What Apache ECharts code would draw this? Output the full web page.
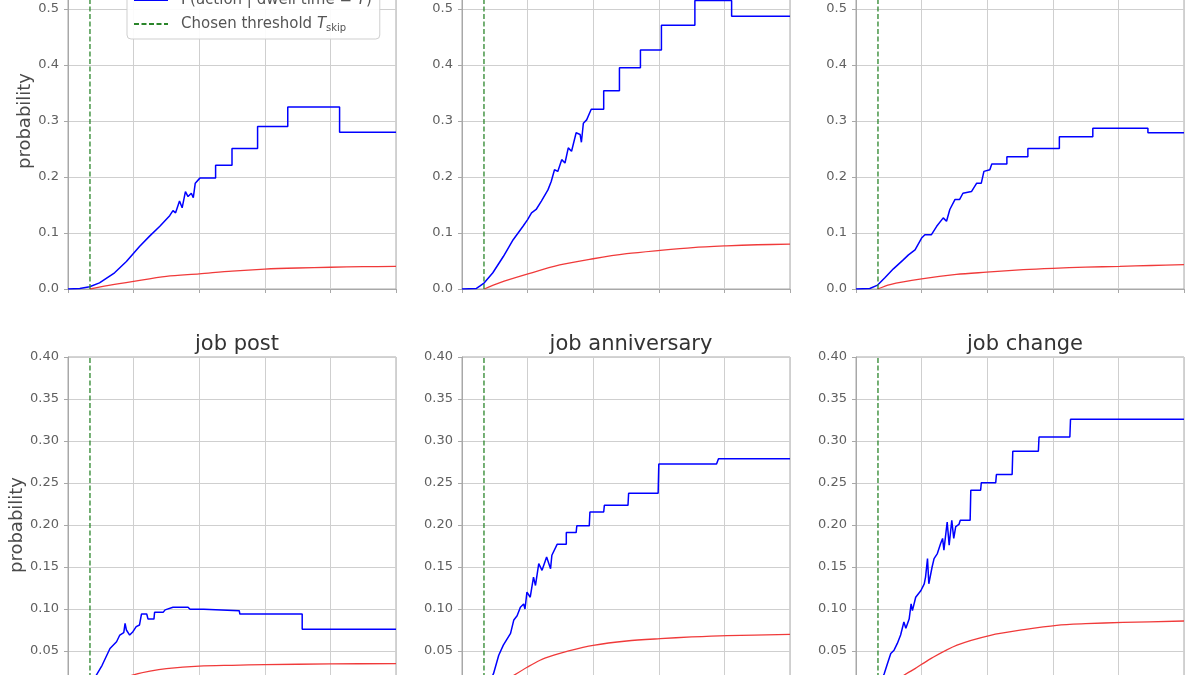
<!DOCTYPE html>
<html><head><meta charset="utf-8">
<script src="https://cdn.jsdelivr.net/npm/echarts@6/dist/echarts.min.js"></script>
<style>html,body{margin:0;padding:0;background:#fff}#c{width:1200px;height:675px}</style>
</head><body><div id="c"></div>
<script>
// ---------- data ----------
const panelTitles = ['', '', '', 'job post', 'job anniversary', 'job change'];
const thresholdT = 0.335;
const xMin = 0, xMax = 5, xStep = 1;
const topRowMax = 0.6, topRowStep = 0.1;
const bottomRowMax = 0.4, bottomRowStep = 0.05;

const blue1 = [[0,0],[0.18,0.001],[0.33,0.004],[0.48,0.011],[0.71,0.029],[0.89,0.049],[1.09,0.076],[1.24,0.094],[1.40,0.112],[1.55,0.131],[1.60,0.140],[1.64,0.136],[1.70,0.157],[1.74,0.145],[1.79,0.174],[1.83,0.165],[1.88,0.171],[1.91,0.163],[1.94,0.189],[2.01,0.198],[2.25,0.198],[2.25,0.221],[2.50,0.221],[2.50,0.251],[2.89,0.251],[2.89,0.290],[3.35,0.290],[3.35,0.325],[4.14,0.325],[4.14,0.280],[5,0.280]];
const red1 = [[0.335,0],[0.6,0.006],[1.0,0.0137],[1.5,0.0225],[2.0,0.027],[2.5,0.032],[3.0,0.0355],[3.5,0.0375],[4.0,0.0388],[4.5,0.0398],[5,0.0405]];

const blue2 = [[0,0],[0.22,0.001],[0.27,0.005],[0.34,0.011],[0.47,0.029],[0.63,0.058],[0.78,0.088],[0.93,0.112],[1.0,0.124],[1.03,0.122],[1.06,0.136],[1.13,0.142],[1.21,0.157],[1.31,0.177],[1.36,0.192],[1.41,0.213],[1.46,0.210],[1.52,0.231],[1.57,0.225],[1.62,0.252],[1.67,0.246],[1.74,0.279],[1.80,0.276],[1.82,0.262],[1.85,0.296],[1.90,0.302],[1.97,0.321],[2.16,0.321],[2.16,0.354],[2.40,0.354],[2.40,0.395],[2.72,0.395],[2.72,0.427],[3.04,0.427],[3.04,0.471],[3.55,0.471],[3.55,0.515],[4.11,0.515],[4.11,0.487],[5,0.487]];
const red2 = [[0.34,0],[0.57,0.011],[0.98,0.026],[1.49,0.043],[2.0,0.054],[2.51,0.063],[3.02,0.069],[3.52,0.074],[4.03,0.077],[4.5,0.079],[5,0.080]];

const blue3 = [[0,0],[0.21,0.001],[0.33,0.007],[0.44,0.020],[0.57,0.036],[0.72,0.052],[0.80,0.061],[0.90,0.070],[1.0,0.091],[1.05,0.097],[1.15,0.097],[1.23,0.112],[1.33,0.127],[1.38,0.121],[1.43,0.142],[1.51,0.160],[1.58,0.160],[1.63,0.171],[1.76,0.174],[1.84,0.189],[1.91,0.189],[1.95,0.210],[2.04,0.213],[2.07,0.223],[2.30,0.223],[2.30,0.236],[2.62,0.236],[2.62,0.251],[3.10,0.251],[3.10,0.272],[3.61,0.272],[3.61,0.287],[4.45,0.287],[4.45,0.279],[5,0.279]];
const red3 = [[0.33,0],[0.52,0.008],[1.0,0.018],[1.53,0.026],[1.99,0.030],[2.55,0.0345],[3.0,0.037],[3.5,0.039],[4.02,0.0405],[4.5,0.042],[5,0.0435]];

const blue4 = [[0,0],[0.2,0.001],[0.33,0.006],[0.43,0.021],[0.52,0.033],[0.64,0.053],[0.74,0.061],[0.79,0.069],[0.85,0.072],[0.87,0.083],[0.89,0.075],[0.94,0.069],[0.99,0.073],[1.04,0.079],[1.09,0.081],[1.12,0.094],[1.20,0.094],[1.22,0.088],[1.31,0.088],[1.32,0.096],[1.45,0.096],[1.48,0.099],[1.60,0.102],[1.83,0.102],[1.86,0.0996],[2.07,0.0996],[2.10,0.098],[2.61,0.098],[2.62,0.094],[3.57,0.094],[3.57,0.076],[5,0.076]];
const red4 = [[0.33,0],[0.55,0.008],[0.75,0.015],[0.97,0.021],[1.25,0.026],[1.5,0.029],[2.0,0.032],[2.5,0.033],[3.0,0.0337],[4.0,0.0346],[5,0.035]];

const blue5 = [[0,0],[0.2,0.001],[0.345,0.006],[0.42,0.013],[0.48,0.023],[0.56,0.045],[0.63,0.057],[0.74,0.071],[0.79,0.087],[0.84,0.092],[0.89,0.102],[0.94,0.106],[0.96,0.100],[0.99,0.120],[1.04,0.114],[1.09,0.138],[1.12,0.128],[1.17,0.154],[1.22,0.146],[1.29,0.162],[1.35,0.148],[1.37,0.164],[1.45,0.177],[1.59,0.177],[1.59,0.191],[1.74,0.191],[1.75,0.199],[1.94,0.199],[1.95,0.2155],[2.16,0.2155],[2.17,0.2234],[2.53,0.2234],[2.54,0.2377],[2.99,0.2377],[3.0,0.2726],[3.88,0.2726],[3.91,0.279],[5,0.279]];
const red5 = [[0.345,0],[0.55,0.009],[0.79,0.021],[1.0,0.031],[1.19,0.039],[1.40,0.045],[1.60,0.0496],[2.0,0.0567],[2.51,0.0619],[3.02,0.0647],[3.5,0.0667],[4.04,0.0683],[5,0.0698]];

const blue6 = [[0,0],[0.2,0.001],[0.344,0.005],[0.43,0.023],[0.48,0.035],[0.53,0.047],[0.58,0.051],[0.63,0.059],[0.68,0.069],[0.73,0.0845],[0.76,0.077],[0.81,0.088],[0.84,0.106],[0.86,0.098],[0.91,0.114],[0.99,0.122],[1.04,0.130],[1.06,0.138],[1.09,0.160],[1.11,0.130],[1.16,0.150],[1.19,0.160],[1.24,0.166],[1.29,0.178],[1.32,0.184],[1.34,0.170],[1.39,0.2036],[1.42,0.176],[1.46,0.2056],[1.49,0.184],[1.52,0.198],[1.57,0.2008],[1.59,0.2056],[1.74,0.2056],[1.75,0.2413],[1.90,0.2413],[1.91,0.2504],[2.13,0.2504],[2.14,0.26],[2.38,0.26],[2.39,0.2877],[2.78,0.2877],[2.79,0.3048],[3.26,0.3048],[3.27,0.3258],[5,0.3258]];
const red6 = [[0.344,0],[0.55,0.009],[0.73,0.021],[0.9,0.029],[1.14,0.041],[1.54,0.057],[2.05,0.0687],[2.56,0.0754],[3.06,0.0806],[3.5,0.0825],[4.07,0.0840],[5,0.0857]];

const blueSeries = [blue1, blue2, blue3, blue4, blue5, blue6];
const redSeries = [red1, red2, red3, red4, red5, red6];

const nameBlue = 'P(action | dwell time = T)';
const nameRed = 'P(action)';
const nameThr = 'Chosen threshold';

// ---------- layout / style ----------
const FONT = 'DejaVu Sans';
const lefts = [68, 462, 856];
const tops = [-47, 357];
const W = 328, H = 336;
const spine = '#a8a8a8', gridc = '#cfcfcf', tickText = '#606060';

const grids = [], xAxes = [], yAxes = [], series = [], titles = [];
for (let i = 0; i < 6; i++) {
  const row = Math.floor(i / 3), col = i % 3;
  const ymax = row === 0 ? topRowMax : bottomRowMax;
  const ystep = row === 0 ? topRowStep : bottomRowStep;
  const dec = row === 0 ? 1 : 2;
  grids.push({left: lefts[col], top: tops[row], width: W, height: H, show: true,
    borderColor: spine, borderWidth: 1, backgroundColor: 'transparent', containLabel: false, outerBoundsMode: 'none'});
  xAxes.push({gridIndex: i, type: 'value', min: xMin, max: xMax, interval: xStep,
    axisLine: {show: true, lineStyle: {color: spine, width: 1}},
    axisTick: {show: true, length: 4, lineStyle: {color: spine}},
    axisLabel: {show: false},
    splitLine: {show: true, lineStyle: {color: gridc, width: 1}}});
  const ya = {gridIndex: i, type: 'value', min: 0, max: ymax, interval: ystep,
    axisLine: {show: true, lineStyle: {color: spine, width: 1}},
    axisTick: {show: true, length: 4, lineStyle: {color: spine}},
    axisLabel: {color: tickText, fontSize: 13, fontFamily: FONT, margin: 9,
      formatter: v => (+v).toFixed(dec)},
    splitLine: {show: true, lineStyle: {color: gridc, width: 1}}};
  if (col === 0) {
    Object.assign(ya, {name: 'probability', nameLocation: 'middle', nameRotate: 90,
      nameGap: row === 0 ? 32 : 41,
      nameTextStyle: {fontSize: 18, color: '#4a4a4a', fontFamily: FONT}});
  }
  yAxes.push(ya);
  series.push({name: nameBlue, type: 'line', xAxisIndex: i, yAxisIndex: i, data: blueSeries[i],
    symbol: 'none', lineStyle: {color: '#0000ff', width: 1.5}, itemStyle: {color: '#0000ff'}, z: 3});
  series.push({name: nameRed, type: 'line', xAxisIndex: i, yAxisIndex: i, data: redSeries[i],
    symbol: 'none', smooth: 0.3, lineStyle: {color: '#f03a3a', width: 1.3}, itemStyle: {color: '#f03a3a'}, z: 3});
  series.push({name: nameThr, type: 'line', xAxisIndex: i, yAxisIndex: i,
    data: [[thresholdT, 0], [thresholdT, ymax]],
    symbol: 'none', lineStyle: {color: '#2a852a', width: 1.3, type: [5, 2.5]}, itemStyle: {color: '#2a852a'}, z: 4});
  if (panelTitles[i]) {
    titles.push({text: panelTitles[i], left: lefts[col] + W / 2, top: 329, textAlign: 'center',
      textStyle: {fontSize: 21, fontWeight: 'normal', color: '#333', fontFamily: FONT}});
  }
}

const chart = echarts.init(document.getElementById('c'), null, {renderer: 'canvas'});
chart.setOption({
  animation: false,
  backgroundColor: '#fff',
  title: titles,
  grid: grids, xAxis: xAxes, yAxis: yAxes, series: series,
  legend: {
    data: [nameBlue, nameThr], orient: 'vertical', left: 127, top: -15,
    itemWidth: 34, itemHeight: 14, itemGap: 6, padding: [6, 8, 6, 6],
    itemStyle: {opacity: 0, borderWidth: 0},
    backgroundColor: 'rgba(255,255,255,0.9)', borderColor: '#cfcfcf', borderWidth: 1, borderRadius: 4,
    textStyle: {fontSize: 15, color: '#555', fontFamily: FONT, lineHeight: 18, padding: [0, 0, 0, 8],
      rich: {
        it: {fontSize: 15, fontStyle: 'italic', color: '#555', fontFamily: FONT, lineHeight: 18},
        sub: {fontSize: 10, color: '#555', fontFamily: FONT, verticalAlign: 'bottom', lineHeight: 12}
      }},
    formatter: function (n) {
      if (n === nameThr) return 'Chosen threshold {it|T}{sub|skip}';
      if (n === nameBlue) return 'P(action | dwell time = {it|T})';
      return n;
    }
  }
});
</script></body></html>
